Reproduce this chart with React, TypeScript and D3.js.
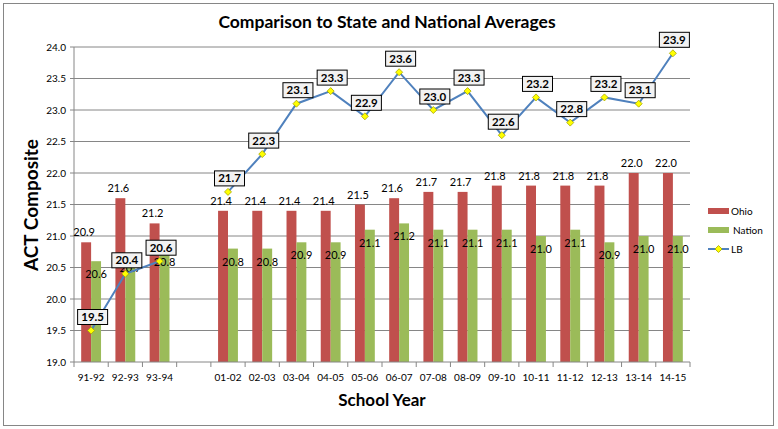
import React from 'react';
import * as d3 from 'd3';

const years = ['91-92', '92-93', '93-94', '', '01-02', '02-03', '03-04', '04-05', '05-06', '06-07', '07-08', '08-09', '09-10', '10-11', '11-12', '12-13', '13-14', '14-15'];
const ohio = [20.9, 21.6, 21.2, null, 21.4, 21.4, 21.4, 21.4, 21.5, 21.6, 21.7, 21.7, 21.8, 21.8, 21.8, 21.8, 22.0, 22.0];
const nation = [20.6, 20.7, 20.8, null, 20.8, 20.8, 20.9, 20.9, 21.1, 21.2, 21.1, 21.1, 21.1, 21.0, 21.1, 20.9, 21.0, 21.0];
const lb = [19.5, 20.4, 20.6, null, 21.7, 22.3, 23.1, 23.3, 22.9, 23.6, 23.0, 23.3, 22.6, 23.2, 22.8, 23.2, 23.1, 23.9];
const yTicks = [19.0, 19.5, 20.0, 20.5, 21.0, 21.5, 22.0, 22.5, 23.0, 23.5, 24.0];

const W = 778;
const H = 429;
const plot = { left: 74, right: 690, top: 47, bottom: 362 };
const FONT = 'Lato, "Open Sans", sans-serif';
const OHIO = '#C0504D';
const NATION = '#9BBB59';
const LINE = '#4F81BD';
const GRID = '#868686';

export default function App() {
  const x = d3.scaleBand<number>().domain(d3.range(years.length)).range([plot.left, plot.right]).padding(0);
  const y = d3.scaleLinear().domain([19, 24]).range([plot.bottom, plot.top]);
  const bw = x.bandwidth();
  const barW = bw * 0.29;
  const cx = (i: number) => (x(i) as number) + bw / 2;

  const line = d3
    .line<number | null>()
    .defined((d) => d != null)
    .x((_, i) => cx(i))
    .y((d) => y(d as number));

  const diamond = (px: number, py: number, r = 3.5) =>
    `M${px},${py - r}L${px + r},${py}L${px},${py + r}L${px - r},${py}Z`;

  return (
    <svg width={W} height={H} style={{ position: 'absolute', left: 0, top: 0, background: '#fff' }} fontFamily={FONT}>
      <rect x={3.5} y={3.5} width={770} height={422} fill="#fff" stroke={GRID} />
      <text x={387} y={28} textAnchor="middle" fontSize={17.5} fontWeight="bold">
        Comparison to State and National Averages
      </text>

      {/* grid + y axis */}
      {yTicks.map((t) => (
        <g key={t}>
          {t > 19 && <line x1={plot.left} x2={plot.right} y1={y(t)} y2={y(t)} stroke={GRID} strokeWidth={1} />}
          <line x1={plot.left - 4} x2={plot.left} y1={y(t)} y2={y(t)} stroke={GRID} />
          <text x={plot.left - 8} y={y(t) + 3.5} textAnchor="end" fontSize={10}>
            {t.toFixed(1)}
          </text>
        </g>
      ))}
      <line x1={plot.left} x2={plot.left} y1={plot.top} y2={plot.bottom} stroke={GRID} />

      {/* bars */}
      {years.map((yr, i) =>
        ohio[i] == null ? null : (
          <g key={'b' + i}>
            <rect x={cx(i) - barW} y={y(ohio[i] as number)} width={barW} height={plot.bottom - y(ohio[i] as number)} fill={OHIO} />
            <rect x={cx(i)} y={y(nation[i] as number)} width={barW} height={plot.bottom - y(nation[i] as number)} fill={NATION} />
          </g>
        )
      )}

      {/* x axis */}
      <line x1={plot.left} x2={plot.right} y1={plot.bottom} y2={plot.bottom} stroke={GRID} />
      {d3.range(years.length + 1).map((i) => {
        const px = plot.left + i * bw;
        return <line key={'t' + i} x1={px} x2={px} y1={plot.bottom} y2={plot.bottom + 5} stroke={GRID} />;
      })}
      {years.map((yr, i) => (
        <text key={'xl' + i} x={cx(i)} y={381} textAnchor="middle" fontSize={10}>
          {yr}
        </text>
      ))}

      {/* bar labels */}
      {years.map((yr, i) =>
        ohio[i] == null ? null : (
          <g key={'bl' + i} fontSize={11}>
            <text x={cx(i) - barW / 2 - 2} y={y(ohio[i] as number) - 6} textAnchor="middle">
              {(ohio[i] as number).toFixed(1)}
            </text>
            <text x={cx(i) + barW / 2} y={y(nation[i] as number) + 17} textAnchor="middle">
              {(nation[i] as number).toFixed(1)}
            </text>
          </g>
        )
      )}

      {/* LB line */}
      <path d={line(lb) || ''} fill="none" stroke={LINE} strokeWidth={2} />
      {lb.map((v, i) =>
        v == null ? null : (
          <path key={'m' + i} d={diamond(cx(i), y(v))} fill="#FFFF00" stroke="#A6A600" strokeWidth={0.8} />
        )
      )}
      {lb.map((v, i) => {
        if (v == null) return null;
        const bx = cx(i) + 1.5;
        const by = y(v) - 6;
        return (
          <g key={'ll' + i}>
            <rect x={bx - 15} y={by - 15} width={30} height={15} fill="#F2F2F2" stroke="#000" strokeWidth={1} />
            <text x={bx} y={by - 3.5} textAnchor="middle" fontSize={11.5} fontWeight="bold">
              {v.toFixed(1)}
            </text>
          </g>
        );
      })}

      {/* axis titles */}
      <text transform="translate(38,205) rotate(-90)" textAnchor="middle" fontSize={19} fontWeight="bold">
        ACT Composite
      </text>
      <text x={382} y={406} textAnchor="middle" fontSize={17} fontWeight="bold">
        School Year
      </text>

      {/* legend */}
      <g fontSize={10}>
        <rect x={708} y={208} width={21} height={6} fill={OHIO} />
        <text x={731} y={214.5}>Ohio</text>
        <rect x={708} y={227} width={21} height={6} fill={NATION} />
        <text x={733} y={233.5}>Nation</text>
        <line x1={708} x2={729} y1={249} y2={249} stroke={LINE} strokeWidth={2} />
        <path d={diamond(718.5, 249)} fill="#FFFF00" stroke="#A6A600" strokeWidth={0.8} />
        <text x={731} y={252.5}>LB</text>
      </g>
    </svg>
  );
}
